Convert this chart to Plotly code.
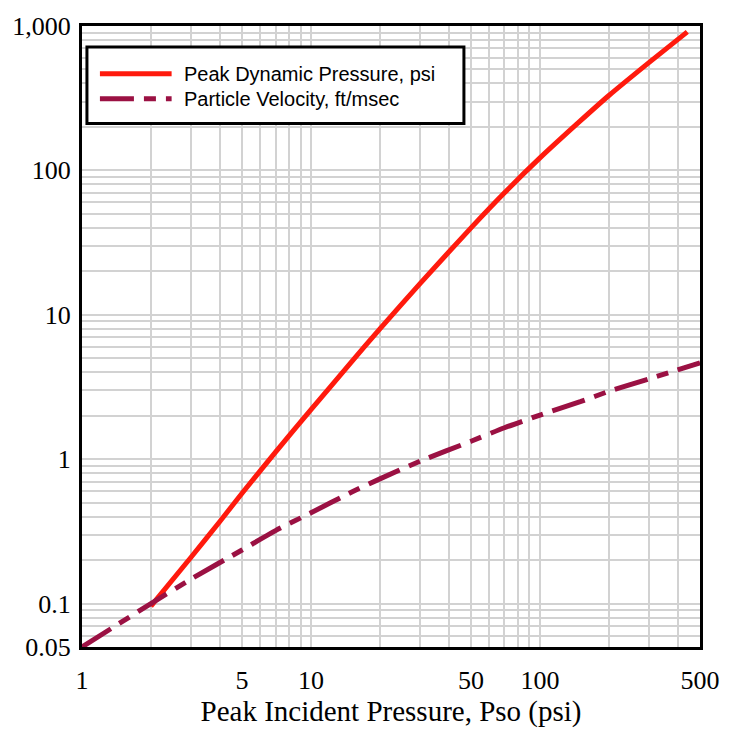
import plotly.graph_objects as go

# Peak incident pressure (psi) sample points
pso_q = [2, 3, 4, 5, 7, 10, 15, 20, 30, 50, 70, 100, 150, 200, 300, 440]
q_psi = [0.096, 0.21, 0.37, 0.58, 1.12, 2.2, 4.7, 8.0, 16.5, 40, 70, 122, 220, 330, 560, 910]

pso_u = [1, 2, 3, 5, 7, 10, 15, 20, 30, 50, 70, 100, 150, 200, 300, 500]
u_ftms = [0.05, 0.10, 0.148, 0.235, 0.32, 0.425, 0.59, 0.73, 0.97, 1.33, 1.65, 2.02, 2.5, 2.95, 3.6, 4.65]

series_names = ["Peak Dynamic Pressure, psi", "Particle Velocity, ft/msec"]
x_tickvals = [1, 5, 10, 50, 100, 500]
x_ticktext = ["1", "5", "10", "50", "100", "500"]
y_tickvals = [0.05, 0.1, 1, 10, 100, 1000]
y_ticktext = ["0.05", "0.1", "1", "10", "100", "1,000"]
x_title = "Peak Incident Pressure, Pso (psi)"

RED = "#FF1A0D"
CRIMSON = "#9B1143"
DASH = "34px,10px,12px,10px"
GRID = "#D2D2D2"

minor_x = [m * 10 ** k for k in range(0, 3) for m in range(2, 10)]
minor_x = [v for v in minor_x if v <= 500 and v not in x_tickvals]
minor_y = [m * 10 ** k for k in range(-2, 3) for m in range(1, 10)]
minor_y = [v for v in minor_y if 0.05 < v < 1000 and v not in y_tickvals]

fig = go.Figure()
fig.add_trace(go.Scatter(x=pso_q, y=q_psi, mode="lines", name=series_names[0],
                         line=dict(color=RED, width=5, shape="spline", smoothing=0.6),
                         showlegend=False))
fig.add_trace(go.Scatter(x=pso_u, y=u_ftms, mode="lines", name=series_names[1],
                         line=dict(color=CRIMSON, width=5, dash=DASH, shape="spline", smoothing=0.6),
                         showlegend=False))

serif = "Liberation Serif, Times New Roman, serif"
sans = "Liberation Sans, Arial, sans-serif"

fig.update_xaxes(type="log", range=[0, 2.69897], tickvals=x_tickvals, ticktext=x_ticktext,
                 showgrid=True, gridcolor=GRID, gridwidth=2,
                 minor=dict(tickvals=minor_x, showgrid=True, gridcolor=GRID, gridwidth=2, ticks=""),
                 showline=True, linecolor="black", linewidth=3, mirror=True,
                 ticks="", ticklabelstandoff=8,
                 tickfont=dict(family=serif, size=26, color="black"),
                 title=dict(text=x_title, font=dict(family=serif, size=29, color="black"), standoff=6),
                 zeroline=False)
fig.update_yaxes(type="log", range=[-1.30103, 3], tickvals=y_tickvals, ticktext=y_ticktext,
                 showgrid=True, gridcolor=GRID, gridwidth=2,
                 minor=dict(tickvals=minor_y, showgrid=True, gridcolor=GRID, gridwidth=2, ticks=""),
                 showline=True, linecolor="black", linewidth=3, mirror=True,
                 ticks="", ticklabelstandoff=3,
                 tickfont=dict(family=serif, size=26, color="black"),
                 zeroline=False)

# custom legend box
shapes = [
    dict(type="rect", xref="paper", yref="paper", x0=0.008, x1=0.618, y0=0.843, y1=0.966,
         line=dict(color="black", width=3), fillcolor="white", layer="above"),
    dict(type="line", xref="paper", yref="paper", x0=0.029, x1=0.145, y0=0.923, y1=0.923,
         line=dict(color=RED, width=5), layer="above"),
    dict(type="line", xref="paper", yref="paper", x0=0.029, x1=0.145, y0=0.883, y1=0.883,
         line=dict(color=CRIMSON, width=5, dash=DASH), layer="above"),
]
annotations = [
    dict(xref="paper", yref="paper", x=0.162, y=0.923, text=series_names[0], showarrow=False,
         xanchor="left", yanchor="middle", font=dict(family=sans, size=20, color="black")),
    dict(xref="paper", yref="paper", x=0.162, y=0.883, text=series_names[1], showarrow=False,
         xanchor="left", yanchor="middle", font=dict(family=sans, size=20, color="black")),
]

fig.update_layout(width=732, height=736, margin=dict(l=82, r=27, t=22, b=89),
                  paper_bgcolor="white", plot_bgcolor="white",
                  shapes=shapes, annotations=annotations, showlegend=False)

fig.write_html("out.html")
